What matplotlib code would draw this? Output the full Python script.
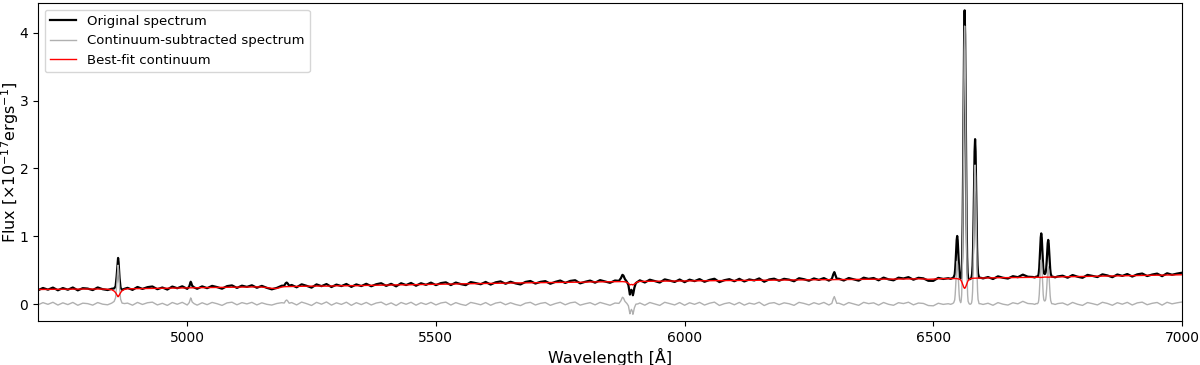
import matplotlib
matplotlib.use("Agg")
import matplotlib.pyplot as plt
import numpy as np

# ---------------- data ----------------
# wavelength samples [Angstrom]
wavelength = [
    # blue continuum
    4700, 4710, 4720, 4730, 4740, 4750, 4760, 4770, 4780, 4790, 4800, 4810, 4820, 4830, 4840,
    # H-beta
    4848, 4853, 4856, 4858, 4860, 4861, 4862, 4864, 4866, 4869, 4874,
    4880, 4890, 4900, 4910, 4920, 4930, 4940, 4950, 4960, 4970, 4980, 4990, 5000,
    # [OIII] 5007
    5004, 5006, 5007, 5008, 5010, 5014,
    5020, 5030, 5040, 5050, 5060, 5070, 5080, 5090, 5100, 5110, 5120, 5130, 5140, 5150, 5160, 5170, 5180, 5190,
    # [NI] 5200
    5195, 5198, 5200, 5202, 5205,
    5210, 5220, 5230, 5240, 5250, 5260, 5270, 5280, 5290, 5300,
    5310, 5320, 5330, 5340, 5350, 5360, 5370, 5380, 5390, 5400,
    5410, 5420, 5430, 5440, 5450, 5460, 5470, 5480, 5490, 5500,
    5510, 5520, 5530, 5540, 5550, 5560, 5570, 5580, 5590, 5600,
    5610, 5620, 5630, 5640, 5650, 5660, 5670, 5680, 5690, 5700,
    5710, 5720, 5730, 5740, 5750, 5760, 5770, 5780, 5790, 5800,
    5810, 5820, 5830, 5840, 5850, 5860,
    # HeI 5876
    5868, 5872, 5875, 5877, 5880, 5884,
    # NaD
    5887, 5889, 5890, 5891, 5893, 5895, 5896, 5897, 5899, 5902, 5906,
    5910, 5920, 5930, 5940, 5950, 5960, 5970, 5980, 5990, 6000,
    6010, 6020, 6030, 6040, 6050, 6060, 6070, 6080, 6090, 6100,
    6110, 6120, 6130, 6140, 6150, 6160, 6170, 6180, 6190, 6200,
    6210, 6220, 6230, 6240, 6250, 6260, 6270, 6280, 6290,
    # [OI] 6300
    6296, 6299, 6301, 6303, 6306,
    6310, 6320, 6330, 6340, 6350, 6360, 6370, 6380, 6390, 6400,
    6410, 6420, 6430, 6440, 6450, 6460, 6470, 6480, 6490, 6500,
    6510, 6520,
    # [NII] + H-alpha complex
    6530, 6535, 6539, 6541, 6543, 6544, 6545, 6546, 6547, 6548,
    6549, 6550, 6551, 6552, 6553, 6555, 6556, 6557, 6558, 6559,
    6560, 6561, 6562, 6563, 6564, 6565, 6566, 6567, 6568, 6569,
    6570, 6572, 6574, 6576, 6577, 6578, 6579, 6580, 6581, 6582,
    6583, 6584, 6585, 6586, 6587, 6588, 6589, 6590, 6592, 6595,
    6600,
    6610, 6620, 6630, 6640, 6650, 6660, 6670, 6680, 6690,
    # [SII] doublet
    6700, 6704, 6707, 6709, 6711, 6712, 6713, 6714, 6715, 6716,
    6717, 6718, 6719, 6720, 6721, 6722, 6723, 6724, 6725, 6726,
    6727, 6728, 6729, 6730, 6731, 6732, 6733, 6734, 6735, 6736,
    6738, 6741, 6745, 6750,
    6760, 6770, 6780, 6790, 6800, 6810, 6820, 6830, 6840, 6850,
    6860, 6870, 6880, 6890, 6900, 6910, 6920, 6930, 6940, 6950,
    6960, 6970, 6980, 6990, 7000,
]

# best-fit continuum (red)
continuum = [
    .215, .216, .216, .217, .218, .218, .219, .220, .220, .221, .222, .222, .223, .221, .218,
    .212, .192, .168, .142, .118, .108, .115, .140, .168, .196, .218,
    .225, .226, .228, .229, .230, .231, .232, .233, .234, .235, .236, .237, .238,
    .238, .239, .239, .239, .239, .240,
    .241, .242, .243, .244, .245, .246, .247, .248, .249, .250, .251, .252, .253, .250, .243, .232, .230, .250,
    .256, .257, .257, .258, .258,
    .259, .260, .262, .263, .263, .265, .266, .264, .267, .269,
    .270, .269, .272, .270, .273, .275, .276, .277, .279, .280,
    .281, .283, .284, .283, .285, .287, .288, .289, .291, .292,
    .293, .292, .295, .296, .298, .299, .300, .301, .303, .304,
    .305, .306, .307, .309, .310, .311, .312, .313, .315, .316,
    .317, .316, .318, .320, .321, .322, .323, .322, .321, .324,
    .326, .327, .329, .330, .331, .332,
    .332, .332, .331, .330, .328, .320,
    .306, .290, .283, .285, .289, .287, .281, .285, .296, .312, .328,
    .334, .335, .336, .337, .337, .338, .339, .339, .340, .341,
    .341, .342, .343, .343, .344, .345, .345, .346, .347, .347,
    .348, .349, .349, .350, .351, .351, .352, .353, .353, .354,
    .355, .355, .356, .357, .357, .358, .359, .359, .360,
    .360, .360, .361, .361, .361,
    .361, .362, .362, .363, .364, .364, .365, .366, .366, .367,
    .368, .368, .369, .370, .370, .371, .372, .370, .365, .368,
    .374, .375,
    .376, .376, .377, .377, .377, .377, .376, .376, .375, .374,
    .373, .372, .370, .368, .365, .355, .345, .330, .312, .292,
    .272, .252, .238, .232, .238, .252, .272, .292, .312, .330,
    .345, .362, .371, .376, .378, .379, .380, .380, .381, .381,
    .381, .382, .382, .382, .382, .383, .383, .383, .383, .384,
    .384,
    .386, .387, .388, .390, .391, .392, .393, .394, .395,
    .396, .397, .397, .397, .396, .395, .394, .393, .392, .392,
    .392, .393, .394, .395, .396, .397, .398, .398, .398, .398,
    .398, .397, .397, .396, .396, .396, .397, .397, .398, .398,
    .399, .399, .400, .400,
    .402, .403, .404, .406, .407, .408, .409, .411, .412, .413,
    .414, .416, .417, .418, .419, .421, .422, .423, .424, .426,
    .427, .428, .429, .431, .432,
]

# continuum-subtracted spectrum (grey)
residual = [
    -.012, .021, -.004, .026, -.015, .018, -.008, .024, -.018, .013, .006, -.016, .022, -.002, -.011,
    .013, .038, .092, .258, .482, .572, .505, .240, .072, .014, .007,
    .014, -.017, .024, -.006, .019, .028, -.013, .011, -.020, .023, -.003, .025, -.014,
    .020, .070, .090, .075, .030, .005,
    -.016, .019, -.009, .024, .005, -.020, .017, .027, -.011, .021, .002, .025, -.013, .018, -.004, -.015, .008, .020,
    .015, .050, .060, .045, .012,
    .022, -.013, .029, .006, -.021, .025, -.002, .031, -.016, .018,
    -.005, .027, -.019, .020, -.008, .024, -.014, .015, .028, -.012,
    .017, -.022, .023, -.003, .026, -.017, .019, -.006, .025, -.013,
    .016, .028, -.015, .021, -.004, -.020, .024, .008, -.011, .022,
    -.018, .014, .027, -.010, .019, -.006, -.023, .013, .025, -.014,
    .010, .022, -.019, .007, .026, -.011, .018, .029, -.016, .004,
    .020, -.012, .024, .003, -.018, .015,
    .010, .050, .100, .090, .040, .008,
    -.026, -.100, -.143, -.115, -.079, -.107, -.151, -.125, -.056, -.002, .002,
    .016, -.017, .023, .002, -.020, .026, .007, -.013, .022, -.018,
    .019, -.004, .025, -.015, .012, .028, -.021, .006, .020, -.011,
    .024, -.016, .014, -.002, .027, -.022, .011, .021, -.009, .018,
    .005, -.019, .025, .009, -.013, .020, -.003, .024, -.014,
    .010, .080, .110, .070, .010,
    .013, -.015, .022, .001, -.019, .025, .006, .018, -.016, .023,
    -.004, -.018, .020, .007, .027, -.012, .015, .009, -.022, -.026,
    .012, -.005,
    .005, -.004, .008, .020, .060, .140, .270, .430, .570, .630,
    .570, .430, .270, .140, .060, .020, .045, .135, .385, .900,
    1.750, 2.810, 3.730, 4.100, 3.730, 2.810, 1.750, .900, .385, .135,
    .040, .005, -.004, .005, .020, .068, .190, .450, .875, 1.400,
    1.870, 2.050, 1.870, 1.400, .875, .450, .190, .068, .006, .004,
    -.006,
    .012, -.018, .021, -.002, -.015, .019, .003, .040, .008,
    .003, -.005, .008, .004, .020, .060, .140, .280, .445, .590,
    .650, .590, .445, .280, .140, .070, .050, .045, .050, .070,
    .130, .235, .375, .500, .550, .500, .375, .235, .120, .052,
    .006, .003, -.006, .007,
    .016, -.015, .024, -.003, -.020, .022, .006, -.013, .026, .009,
    -.018, .020, -.002, .025, -.014, .017, .028, -.010, .011, .023,
    -.016, .026, .003, .018, .030,
]

x_ticks = [5000, 5500, 6000, 6500, 7000]
y_ticks = [0, 1, 2, 3, 4]

# ---------------- plot ----------------
wl = np.array(wavelength, dtype=float)
cont = np.array(continuum, dtype=float)
resid = np.array(residual, dtype=float)
assert len(wl) == len(cont) == len(resid)
original = cont + resid

fig = plt.figure(figsize=(12, 3.65), dpi=100)
ax = fig.add_axes([38 / 1200, 1 - 321 / 365, (1182 - 38) / 1200, (321 - 3) / 365])

ax.plot(wl, original, color="black", lw=1.6, label="Original spectrum")
ax.plot(wl, resid, color="#b0b0b0", lw=1.0, label="Continuum-subtracted spectrum")
ax.plot(wl, cont, color="red", lw=1.0, label="Best-fit continuum")

ax.set_xlim(4700, 7000)
ax.set_ylim(-0.25, 4.44)
ax.set_xticks(x_ticks)
ax.set_yticks(y_ticks)
ax.tick_params(labelsize=10)
ax.set_xlabel("Wavelength [Å]", fontsize=11.5, labelpad=2)
ax.set_ylabel(r"Flux [×10$^{-17}$ergs$^{-1}$]", fontsize=11.5)
ax.yaxis.set_label_coords(-0.0145, 0.5)
ax.legend(loc="upper left", fontsize=9.5)

fig.savefig("out.png", dpi=100)
